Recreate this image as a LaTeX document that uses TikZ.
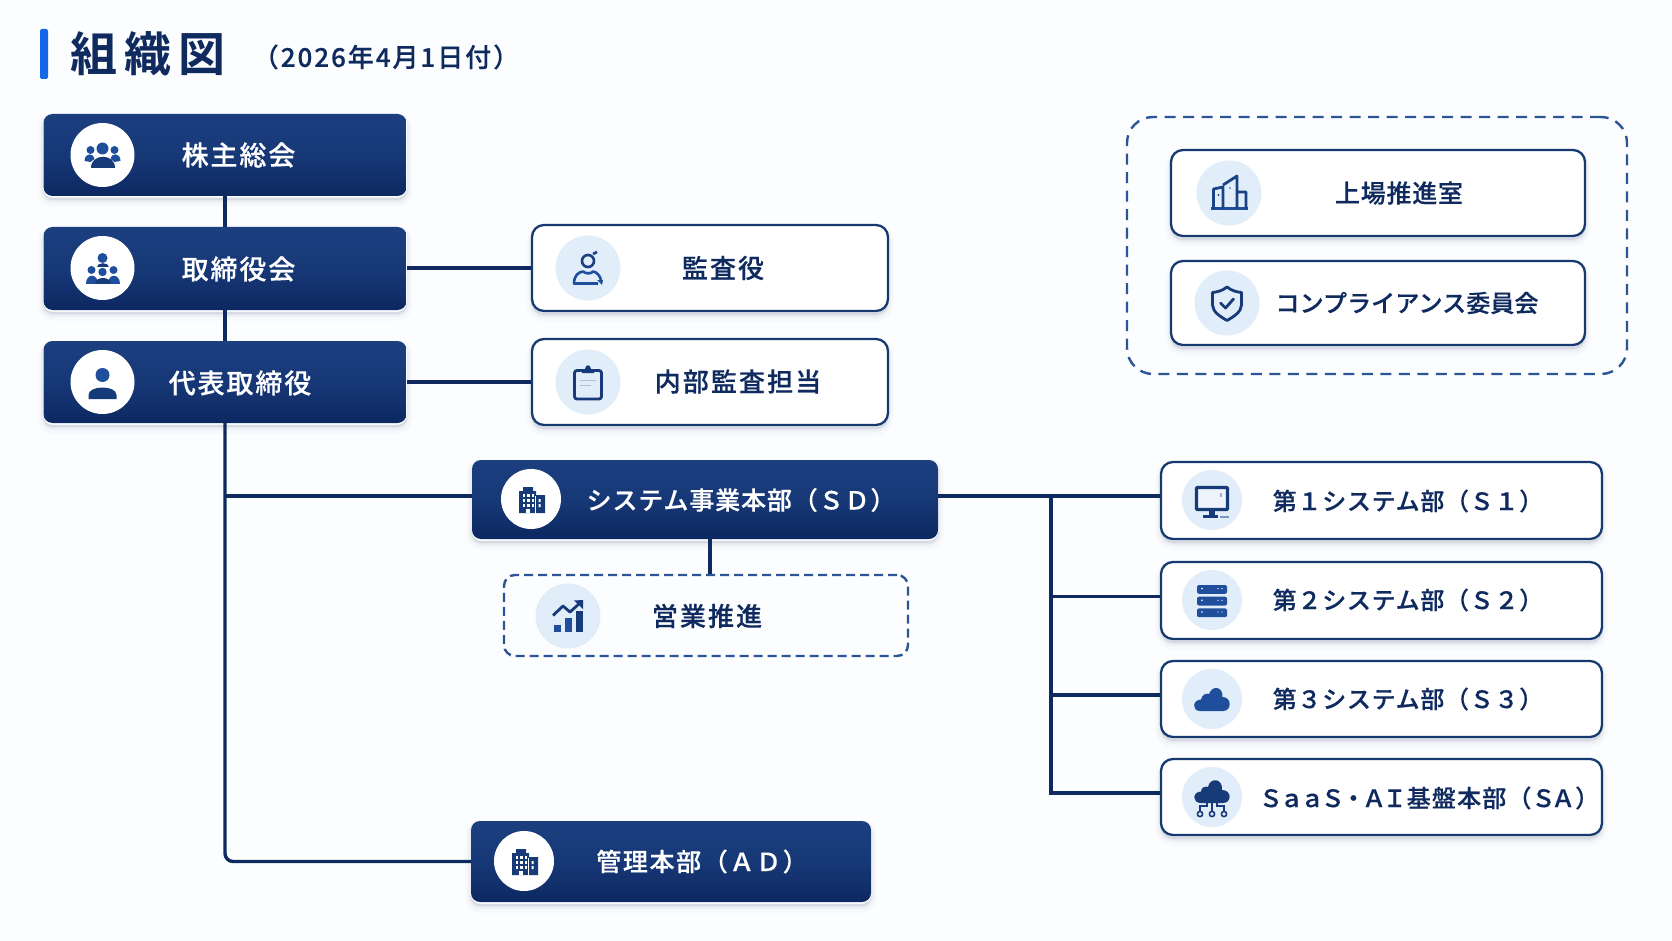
\documentclass[tikz,border=0pt]{standalone}
\usepackage{fontspec}
\usetikzlibrary{calc}
\newfontfamily\jpm[FakeBold=0.4]{Noto Sans CJK JP Medium}
\newfontfamily\jpb{Noto Sans CJK JP Bold}
\definecolor{navy}{HTML}{0F2A5E}
\definecolor{navytop}{HTML}{1C3F80}
\definecolor{navybot}{HTML}{0C2861}
\definecolor{edgeblue}{HTML}{16396F}
\definecolor{dashblue}{HTML}{2C5596}
\definecolor{iconblue}{HTML}{1F4E9C}
\definecolor{icondark}{HTML}{173A78}
\definecolor{iconbg}{HTML}{E1EDF8}
\definecolor{pagebg}{HTML}{FCFDFE}
\definecolor{accent}{HTML}{1467E6}
\newcommand{\lsp}[1]{\addfontfeature{LetterSpace=#1}}
\tikzset{
  softshadow/.style={
    preaction={draw=navy,line width=11pt,draw opacity=.025,fill=navy,fill opacity=.03,transform canvas={yshift=-5pt}},
    preaction={draw=navy,line width=6pt,draw opacity=.035,fill=none,transform canvas={yshift=-4pt}},
    preaction={draw=navy,line width=2pt,draw opacity=.07,fill=none,transform canvas={yshift=-3pt}}},
  darkbox/.style={rectangle,rounded corners=9pt,inner sep=0pt,softshadow,
    preaction={fill=white,draw=white,line width=1pt,transform canvas={yshift=-1pt}},
    top color=navytop,bottom color=navybot,middle color=navytop!70!navybot},
  lightbox/.style={rectangle,rounded corners=12pt,inner sep=0pt,softshadow,fill=white,draw=edgeblue,line width=2.3pt},
  dashbox/.style={rectangle,rounded corners=11pt,inner sep=0pt,draw=dashblue,line width=2.4pt,dash pattern=on 9pt off 5pt},
  groupbox/.style={rectangle,rounded corners=26pt,inner sep=0pt,draw=dashblue,line width=2.4pt,dash pattern=on 11pt off 7.5pt},
  whitecirc/.style={circle,fill=white,inner sep=0pt,minimum size=64pt},
  bluecirc/.style={circle,fill=iconbg,inner sep=0pt,minimum size=65pt},
  smallwhite/.style={circle,fill=white,inner sep=0pt,minimum size=60pt},
  smallblue/.style={circle,fill=iconbg,inner sep=0pt,minimum size=60pt},
  conn/.style={draw=navy,line width=3.4pt},
  lab/.style={inner sep=0pt,text=navy,font=\jpm\fontsize{26}{30}\selectfont\lsp{8}},
  wlab/.style={inner sep=0pt,text=white,font=\jpm\fontsize{27}{30}\selectfont\lsp{7}},
  dept/.style={inner sep=0pt,text=navy,font=\jpm\fontsize{24}{30}\selectfont\lsp{3}},
  % icons
  users/.pic={
    \fill[iconblue] (0,-6.5) circle (6);
    \fill[iconblue] (-12,-5) circle (4);
    \fill[iconblue] (12,-5) circle (4);
    \fill[iconblue] (-18,6) .. controls (-18,-3) and (-8,-2) .. (-8,4) -- (-12,7) -- cycle;
    \fill[iconblue] (18,6) .. controls (18,-3) and (8,-2) .. (8,4) -- (12,7) -- cycle;
    \fill[icondark] (-12,13) .. controls (-12,-2) and (12,-2) .. (12,13) -- cycle;
  },
  board/.pic={
    \fill[iconblue] (0,-10) circle (5);
    \fill[icondark] (-6,-1) .. controls (-6,-6) and (6,-6) .. (6,-1) -- cycle;
    \fill[iconblue] (-11,2) circle (4);
    \fill[iconblue] (11,2) circle (4);
    \fill[iconblue] (0,4) circle (4.2);
    \fill[iconblue] (-17,16) .. controls (-17,5) and (-5,5) .. (-5,16) -- cycle;
    \fill[iconblue] (17,16) .. controls (17,5) and (5,5) .. (5,16) -- cycle;
    \fill[icondark] (-8,16) .. controls (-8,8) and (8,8) .. (8,16) -- cycle;
  },
  person/.pic={
    \fill[iconblue] (0,-7) circle (7);
    \fill[icondark] (-14,17) -- (-14,13) .. controls (-14,3) and (14,3) .. (14,13) -- (14,17) -- cycle;
  },
  auditor/.pic={
    \draw[icondark!70!iconblue,line width=2.6pt] (0,-7) circle (6);
    \draw[icondark!70!iconblue,line width=2.6pt] (5,-14) -- (9,-16);
    \draw[iconblue,line width=2.6pt,line join=round] (10,15.5) -- (-14,15.5) .. controls (-14,7) and (-9,4) .. (-5,3.5)
      .. controls (-2,6) and (3,6) .. (5,3.5) .. controls (9,4) and (12,8) .. (13,12);
    \fill[iconblue] (9,12) -- (15,12) -- (14,17) -- cycle;
  },
  clipboard/.pic={
    \draw[icondark,line width=2.8pt,rounded corners=2.5pt,fill=iconbg] (-13.5,-11.5) rectangle (13.5,17);
    \fill[icondark] (-6,-9) -- (-6,-13) -- (-3,-13) .. controls (-2.5,-18) and (2.5,-18) .. (3,-13) -- (6,-13) -- (6,-9) -- cycle;
    \draw[iconblue!35,line width=1pt] (-8,-2) -- (8,-2) (-8,3) -- (3,3);
  },
  building/.pic={
    \fill[icondark] (-12,14) -- (-12,-8) -- (-8,-8) -- (-8,-12) -- (2,-12) -- (2,-8) -- (5,-8) -- (5,-4) -- (14,-4) -- (14,14) -- cycle;
    \foreach \wx in {-8.5,-4,0.5} \foreach \wy in {-5,0,5} \fill[white] (\wx,\wy) rectangle ++(2.8,3);
    \fill[white] (-5,10) rectangle (-1,14);
    \fill[white] (7.5,-0) rectangle (9.5,3) (7.5,5) rectangle (9.5,8);
    \fill[white] (3.6,-3) rectangle (5,14);
  },
  chartup/.pic={
    \fill[iconblue] (-14.5,9) rectangle (-7.5,16);
    \fill[iconblue] (-3.5,2) rectangle (3.5,16);
    \fill[icondark] (7.5,-5) rectangle (14.5,16);
    \draw[icondark,line width=2.8pt,line join=round] (-15,-0.5) -- (-5,-10) -- (2,-4) -- (12,-13);
    \fill[icondark] (15,-16) -- (15,-7) -- (6,-15.5) -- cycle;
  },
  towers/.pic={
    \draw[iconblue,line width=3pt] (-18.5,16) -- (19,16);
    \draw[icondark!60!iconblue,line width=2.8pt,line join=round] (-15.5,16) -- (-15.5,-4) -- (-6,-6) -- (-6,16)
      (-6,-8) -- (8,-17) -- (8,16) (8,-1) -- (17,-1) -- (17,16);
    \fill[iconblue] (-10.5,2) circle (1.2);
    \fill[iconblue] (1,-5) circle (.8);
  },
  shield/.pic={
    \draw[icondark,line width=2.8pt,line join=round] (0,-16) .. controls (5,-12) and (10,-11) .. (14.5,-10.5) -- (14.5,2)
      .. controls (14.5,9) and (6,14) .. (0,17.5) .. controls (-6,14) and (-14.5,9) .. (-14.5,2) -- (-14.5,-10.5)
      .. controls (-10,-11) and (-5,-12) .. (0,-16) -- cycle;
    \draw[icondark,line width=2.8pt,line cap=round,line join=round] (-6.5,0) -- (-1.5,5) -- (6.5,-4);
  },
  monitor/.pic={
    \draw[icondark,line width=3.4pt,fill=iconbg!60!white,rounded corners=1pt] (-15.5,-12.5) rectangle (15.5,9.5);
    \fill[icondark] (-3,10) rectangle (3,15);
    \fill[icondark] (-9,15) rectangle (6,17.5);
    \fill[iconblue!45] (8,-7) rectangle (10,-3);
    \fill[iconblue!60] (8,15.5) rectangle (17,17.5);
    \fill[icondark] (0,11) circle (1);
  },
  servers/.pic={
    \foreach \sy in {-15,-3.3,8.4} {
      \fill[iconblue,rounded corners=2pt] (-15,\sy) rectangle (15,\sy+8.8);
      \fill[white] (-10,\sy+3.6) circle (.9);
      \fill[white] (6,\sy+3.6) circle (.7);
      \fill[white] (10,\sy+3.6) circle (.7);
    }
  },
  cloudy/.pic={
    \fill[iconblue] (-12,12) .. controls (-20,12) and (-20,1) .. (-11,0.5)
      .. controls (-10,-5) and (-5,-6) .. (-3,-5) .. controls (0,-14) and (11,-13) .. (10.5,-2)
      .. controls (20,-2) and (20,12) .. (11,12) -- cycle;
  },
  cloudnet/.pic={
    \fill[icondark] (-11,6) .. controls (-20,6) and (-20,-5) .. (-11,-5.5)
      .. controls (-11,-10) and (-6,-11) .. (-4,-10) .. controls (-2,-20) and (11,-19) .. (10,-7)
      .. controls (20,-7) and (20,6) .. (11,6) -- cycle;
    \draw[icondark,line width=1.8pt] (0,6) -- (0,14.5) (-5,5) -- (-5,9) -- (-12,9) -- (-12,14.5) (5,5) -- (5,9) -- (12,9) -- (12,14.5);
    \foreach \nx in {-12,0,12} \draw[icondark,line width=1.6pt,fill=iconbg] (\nx,17) circle (2.6);
  },
}
\begin{document}
\begin{tikzpicture}[x=1pt,y=-1pt]
\useasboundingbox (0,0) rectangle (1672,941);
\fill[pagebg] (0,0) rectangle (1672,941);

% title
\fill[accent,rounded corners=2pt] (40,29) rectangle (48,79);
\node[inner sep=0pt,anchor=west,text=navy,font=\jpb\fontsize{47}{50}\selectfont\lsp{15}] (title) at (70,54) {組織図};
\node[inner sep=0pt,text=navy,font=\jpm\fontsize{26}{30}\selectfont\lsp{7.5}] (date) at (386,57) {（2026年4月1日付）};

% group frame
\node[groupbox,minimum width=500pt,minimum height=257pt] (grp) at (1377,245.5) {};

% left column
\node[darkbox,minimum width=363pt,minimum height=82pt] (kabu) at (225,155) {};
\node[darkbox,minimum width=363pt,minimum height=83pt] (tori) at (225,268.5) {};
\node[darkbox,minimum width=363pt,minimum height=82pt] (pres) at (225,382) {};
\node[lightbox,minimum width=356pt,minimum height=86pt] (audit) at (710,268) {};
\node[lightbox,minimum width=356pt,minimum height=86pt] (inter) at (710,382) {};
\node[darkbox,minimum width=466pt,minimum height=79pt] (sd) at (705,499.5) {};
\node[dashbox,minimum width=404pt,minimum height=81pt] (sales) at (706,615.5) {};
\node[darkbox,minimum width=400pt,minimum height=81pt] (ad) at (671,861.5) {};

% right column
\node[lightbox,minimum width=414pt,minimum height=86pt] (ipo) at (1378,193) {};
\node[lightbox,minimum width=414pt,minimum height=84pt] (comp) at (1378,303) {};
\node[lightbox,minimum width=441pt,minimum height=77pt] (s1) at (1381.5,500.5) {};
\node[lightbox,minimum width=441pt,minimum height=77pt] (s2) at (1381.5,600.5) {};
\node[lightbox,minimum width=441pt,minimum height=76pt] (s3) at (1381.5,699) {};
\node[lightbox,minimum width=441pt,minimum height=76pt] (sa) at (1381.5,797) {};

% connectors
\coordinate (jsd) at (225,496);
\coordinate (bus) at (1051,496);
\draw[conn] (kabu.south) -- (tori.north);
\draw[conn] (tori.south) -- (pres.north);
\draw[conn] (tori.east |- audit.west) -- (audit.west);
\draw[conn] (pres.east) -- (inter.west);
\draw[conn,rounded corners=8pt] (pres.south) |- (ad.west);
\draw[conn] (jsd) -- (jsd -| sd.west);
\draw[conn] (bus -| sd.east) -- (bus) -- (bus -| s1.west);
\draw[conn] (bus) |- ([yshift=4pt]s2.west);
\draw[conn] (bus) |- ([yshift=4pt]s3.west);
\draw[conn] (bus) |- ([yshift=4pt]sa.west);
\draw[conn] (710,539) coordinate (sdb) -- (sdb |- sales.north);

% icon discs and icons
\node[whitecirc] (ckabu) at (102.5,155) {};  \pic at (ckabu) {users};
\node[whitecirc] (ctori) at (102.5,268) {};  \pic at (ctori) {board};
\node[whitecirc] (cpres) at (102.5,382) {};  \pic at (cpres) {person};
\node[bluecirc]  (caud)  at (588,268) {};    \pic at (caud) {auditor};
\node[bluecirc]  (cint)  at (588,382) {};    \pic at (cint) {clipboard};
\node[smallwhite] (csd)  at (531,499) {};    \pic at (csd) {building};
\node[bluecirc]  (csal)  at (568,616) {};    \pic at (csal) {chartup};
\node[smallwhite] (cad)  at (524,861) {};    \pic at (cad) {building};
\node[bluecirc]  (cipo)  at (1229,193) {};   \pic at (cipo) {towers};
\node[bluecirc]  (ccom)  at (1227,303) {};   \pic at (ccom) {shield};
\node[smallblue] (cs1)   at (1212,500) {};   \pic at (cs1) {monitor};
\node[smallblue] (cs2)   at (1212,600) {};   \pic at (cs2) {servers};
\node[smallblue] (cs3)   at (1212,699) {};   \pic at (cs3) {cloudy};
\node[smallblue] (csa)   at (1212,797) {};   \pic at (csa) {cloudnet};

% labels
\node[wlab] (tkabu) at (238.5,155) {株主総会};
\node[wlab] (ttori) at (238.5,269) {取締役会};
\node[wlab] (tpres) at (240,383) {代表取締役};
\node[lab]  (taud)  at (723,268) {監査役};
\node[lab]  (tint)  at (738,381.5) {内部監査担当};
\node[wlab,font=\jpm\fontsize{25}{30}\selectfont\lsp{3.5}] (tsd) at (741,500) {システム事業本部（ＳＤ）};
\node[lab]  (tsal)  at (707,616) {営業推進};
\node[wlab,font=\jpm\fontsize{25}{30}\selectfont\lsp{6.5}] (tad) at (702,861.5) {管理本部（ＡＤ）};
\node[lab,font=\jpm\fontsize{25}{30}\selectfont\lsp{3}]  (tipo)  at (1399,193) {上場推進室};
\node[lab,font=\jpm\fontsize{24}{30}\selectfont\lsp{.5}] (tcom) at (1407,303) {コンプライアンス委員会};
\node[dept] (ts1) at (1408,501) {第１システム部（Ｓ１）};
\node[dept] (ts2) at (1408,600) {第２システム部（Ｓ２）};
\node[dept] (ts3) at (1408,699) {第３システム部（Ｓ３）};
\node[dept,font=\jpm\fontsize{24}{30}\selectfont\lsp{5}] (tsa) at (1429,798) {{\lsp{-14}ＳａａＳ・ＡＩ}基盤本部（{\lsp{-18}ＳＡ}）};
\end{tikzpicture}
\end{document}
